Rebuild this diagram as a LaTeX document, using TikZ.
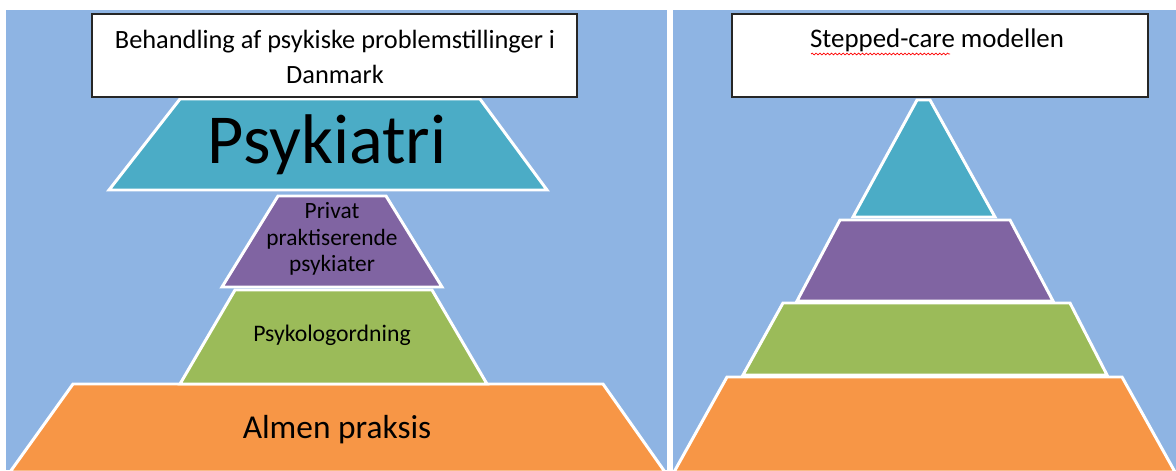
\documentclass[tikz,border=0pt]{standalone}
\usepackage{fontspec}
\setmainfont{Carlito}
\usepackage{tikz}
\usetikzlibrary{decorations.pathmorphing}
\definecolor{panelbg}{HTML}{8EB4E3}
\definecolor{stepteal}{HTML}{4BACC6}
\definecolor{steppurple}{HTML}{8064A2}
\definecolor{stepgreen}{HTML}{9BBB59}
\definecolor{steporange}{HTML}{F79646}
\definecolor{boxline}{HTML}{262626}

\begin{document}
\begin{tikzpicture}[x=0.02cm,y=-0.02cm,
    layer/.style={draw=white,line width=1.7pt,line join=miter},
    titlebox/.style={fill=white,draw=boxline,line width=0.9pt}]
  \useasboundingbox (0,0) rectangle (1176,470);
  \clip (0,0) rectangle (1176,470);
  % Panels
  \fill[white] (0,0) rectangle (1176,470);
  \fill[panelbg] (6,10) rectangle (667,470);
  \fill[panelbg] (673,10) rectangle (1176,470);
  % Left pyramid
  \filldraw[layer,fill=steporange] (73,384)--(603,384)--(665,472)--(10,472)--cycle;
  \filldraw[layer,fill=stepgreen] (235,290)--(432,290)--(487,384)--(180,384)--cycle;
  \filldraw[layer,fill=steppurple] (278,196)--(386,196)--(442,287)--(222,287)--cycle;
  \filldraw[layer,fill=stepteal] (180,99)--(480,99)--(547,190)--(109,190)--cycle;
  \filldraw[titlebox] (92,14) rectangle (577,97);
  \node[font=\fontsize{15}{20}\selectfont,align=center] (titleL) at (335,57)
    {Behandling af psykiske problemstillinger i\\Danmark};
  \node[font=\fontsize{40}{40}\selectfont] (psyk) at (327,145) {Psykiatri};
  \node[font=\fontsize{13.3}{15}\selectfont,align=center] (privat) at (332,239)
    {Privat\\praktiserende\\psykiater};
  \node[font=\fontsize{13.5}{15}\selectfont] (psykolog) at (332,335) {Psykologordning};
  \node[font=\fontsize{19}{20}\selectfont] (almen) at (337,430) {Almen praksis};
  % Right pyramid
  \filldraw[layer,fill=steporange] (727,377)--(1122,377)--(1175,472)--(674,472)--cycle;
  \filldraw[layer,fill=stepgreen] (783,303)--(1070,303)--(1107,375)--(743,375)--cycle;
  \filldraw[layer,fill=steppurple] (840,220)--(1010,220)--(1053,301)--(797,301)--cycle;
  \filldraw[layer,fill=stepteal] (917,100)--(930,100)--(995,217)--(853,217)--cycle;
  \filldraw[titlebox] (732,14) rectangle (1148,97);
  \node[font=\fontsize{15.3}{20}\selectfont] (titleR) at (937,40) {Stepped-care modellen};
  \draw[red,line width=0.4pt,decorate,
    decoration={snake,amplitude=0.5pt,segment length=2.2pt}] (811,54)--(950,54);
\end{tikzpicture}
\end{document}
